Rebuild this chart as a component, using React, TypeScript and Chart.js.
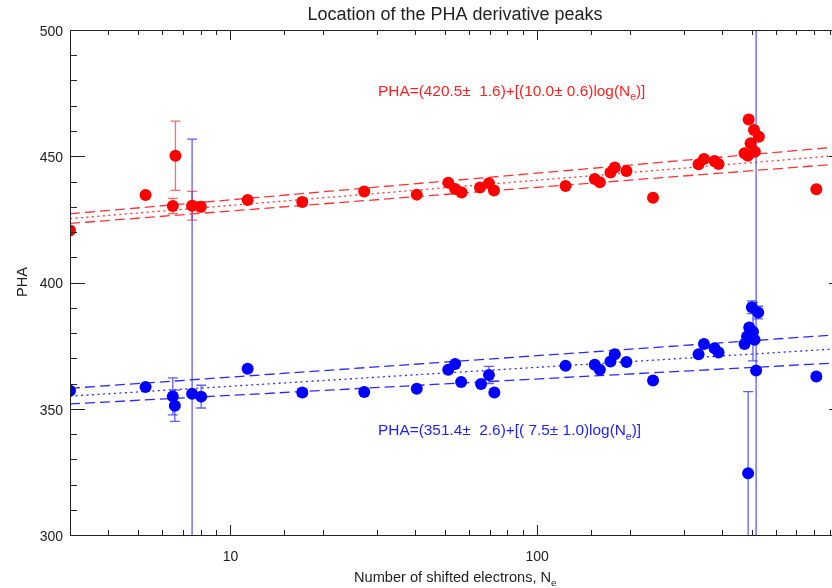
import React, { useEffect, useRef } from 'react';
import { Chart, registerables } from 'chart.js';

Chart.register(...registerables);

// ---- data ----
const redX = [3, 5.29, 6.49, 6.62, 7.5, 8.01, 11.38, 17.15, 27.3, 40.5, 51.3, 54.0, 56.7, 65.1, 69.6, 72.3, 123.7, 154, 160, 173.3, 179, 195.4, 238.5, 335.7, 349.6, 378.5, 390, 474, 486, 489, 509, 528, 496, 512, 812.5];
const redY = [420.6, 434.7, 430.3, 450.2, 430.4, 430.0, 432.7, 431.9, 436.0, 434.8, 439.5, 437.0, 435.6, 437.6, 439.3, 436.4, 438.2, 441.0, 439.7, 443.6, 445.5, 444.2, 433.6, 446.8, 448.9, 448.1, 446.9, 451.2, 450.2, 464.6, 460.4, 457.7, 455.1, 451.8, 436.9];
const redErr = [0, 0, 3.0, 13.7, 5.7, 2.0, 0, 1.5, 0, 0, 0, 0, 0, 0, 0, 0, 0, 0, 0, 0, 0, 0, 0, 0, 0, 0, 0, 0, 0, 0, 0, 0, 0, 0, 0];

const blueX = [3, 5.29, 6.49, 6.59, 7.5, 8.03, 11.38, 17.15, 27.3, 40.5, 51.3, 54.0, 56.5, 65.6, 69.6, 72.5, 123.7, 154, 160, 173.3, 179, 195.4, 238.5, 335.7, 349.6, 378.5, 390, 474, 483, 491, 501, 525, 511, 505, 517, 812.5, 487];
const blueY = [357.1, 358.6, 354.9, 351.2, 355.9, 354.8, 365.8, 356.4, 356.6, 357.9, 365.4, 367.7, 360.6, 359.8, 363.4, 356.4, 367.0, 367.4, 365.4, 368.7, 371.6, 368.5, 361.2, 371.6, 375.6, 374.0, 372.3, 375.6, 378.6, 382.2, 390.2, 388.1, 377.3, 380.5, 365.1, 362.8, 324.5];
const blueErr = [0, 0, 7.3, 6.2, 100.9, 4.5, 0, 1.5, 0, 0, 0, 0, 0, 0, 3.4, 0, 0, 0, 0, 0, 0, 0, 0, 0, 0, 0, 0, 0, 0, 0, 2.5, 2.5, 0, 11.5, 200, 0, 32.3];

// fit lines (end points at the axis limits)
const fitX = [3, 1000];
const redFit = [425.3, 450.5];
const redFitHi = [427.2, 453.9];
const redFitLo = [423.4, 447.1];
const blueFit = [355.0, 373.9];
const blueFitHi = [358.1, 379.5];
const blueFitLo = [351.9, 368.3];

const title = 'Location of the PHA derivative peaks';
const xTitle = 'Number of shifted electrons, N';
const yTitle = 'PHA';
const redFormula = ['PHA=(420.5\u00b1  1.6)+[(10.0\u00b1 0.6)log(N', 'e', ')]'];
const blueFormula = ['PHA=(351.4\u00b1  2.6)+[( 7.5\u00b1 1.0)log(N', 'e', ')]'];
const yMajorLabels = [300, 350, 400, 450, 500];
const xMajorLabels = [10, 100];

const FONT = '"Liberation Sans", Arial, Helvetica, sans-serif';
const RED = 'rgb(255,0,0)';
const BLUE = 'rgb(0,0,255)';

const pts = (xs: number[], ys: number[]) => xs.map((x, i) => ({ x, y: ys[i] }));

function drawSubText(ctx: CanvasRenderingContext2D, parts: string[], x: number, y: number, size: number, color: string) {
  ctx.fillStyle = color;
  ctx.textAlign = 'left';
  ctx.textBaseline = 'alphabetic';
  ctx.font = `${size}px ${FONT}`;
  ctx.fillText(parts[0], x, y);
  let cx = x + ctx.measureText(parts[0]).width;
  if (parts.length > 1) {
    ctx.font = `${size * 0.68}px ${FONT}`;
    ctx.fillText(parts[1], cx, y + size * 0.3);
    cx += ctx.measureText(parts[1]).width;
  }
  if (parts.length > 2) {
    ctx.font = `${size}px ${FONT}`;
    ctx.fillText(parts[2], cx, y);
  }
}

const overlay = {
  id: 'overlay',
  beforeDatasetsDraw(chart: any) {
    const { ctx, chartArea: a, scales } = chart;
    const xs = scales.x, ys = scales.y;
    ctx.save();
    ctx.beginPath();
    ctx.rect(a.left, a.top, a.right - a.left, a.bottom - a.top);
    ctx.clip();
    const drawErr = (X: number[], Y: number[], E: number[], color: string) => {
      ctx.strokeStyle = color;
      ctx.lineWidth = 1.3;
      X.forEach((xv, i) => {
        const e = E[i];
        if (!e) return;
        const px = xs.getPixelForValue(xv);
        const p1 = ys.getPixelForValue(Y[i] + e);
        const p2 = ys.getPixelForValue(Y[i] - e);
        ctx.beginPath();
        ctx.moveTo(px, p1); ctx.lineTo(px, p2);
        ctx.moveTo(px - 5, p1); ctx.lineTo(px + 5, p1);
        ctx.moveTo(px - 5, p2); ctx.lineTo(px + 5, p2);
        ctx.stroke();
      });
    };
    drawErr(redX, redY, redErr, 'rgba(255,70,70,0.8)');
    drawErr(blueX, blueY, blueErr, 'rgba(40,40,255,0.75)');
    ctx.restore();
  },
  afterDraw(chart: any) {
    const { ctx, chartArea: a, scales } = chart;
    const xs = scales.x, ys = scales.y;
    ctx.save();
    ctx.strokeStyle = '#222';
    ctx.lineWidth = 1;
    ctx.strokeRect(Math.round(a.left) + 0.5, Math.round(a.top) + 0.5, a.right - a.left, a.bottom - a.top);
    ctx.beginPath();
    ys.ticks.forEach((t: any) => {
      const py = Math.round(ys.getPixelForValue(t.value)) + 0.5;
      const len = yMajorLabels.includes(t.value) ? 15 : 7;
      ctx.moveTo(a.left, py); ctx.lineTo(a.left + len, py);
      ctx.moveTo(a.right, py); ctx.lineTo(a.right - len, py);
    });
    xs.ticks.forEach((t: any) => {
      const lg = Math.log10(t.value);
      const major = Math.abs(lg - Math.round(lg)) < 1e-9;
      const px = Math.round(xs.getPixelForValue(t.value)) + 0.5;
      const len = major ? 10 : 5;
      ctx.moveTo(px, a.bottom); ctx.lineTo(px, a.bottom - len);
      ctx.moveTo(px, a.top); ctx.lineTo(px, a.top + len);
    });
    ctx.stroke();

    // titles
    ctx.fillStyle = '#222';
    ctx.font = `18px ${FONT}`;
    ctx.textAlign = 'center';
    ctx.textBaseline = 'alphabetic';
    ctx.fillText(title, 455, 20);

    drawSubText(ctx, [xTitle, 'e'], 354, 582, 14.6, '#222');

    ctx.save();
    ctx.translate(27, 282);
    ctx.rotate(-Math.PI / 2);
    ctx.font = `14.6px ${FONT}`;
    ctx.textAlign = 'center';
    ctx.textBaseline = 'alphabetic';
    ctx.fillStyle = '#222';
    ctx.fillText(yTitle, 0, 0);
    ctx.restore();

    drawSubText(ctx, redFormula, 378, 95.5, 15.4, 'rgb(255,30,30)');
    drawSubText(ctx, blueFormula, 378, 435, 15.4, 'rgb(30,30,255)');
    ctx.restore();
  },
};

export default function App() {
  const ref = useRef<HTMLCanvasElement | null>(null);
  useEffect(() => {
    if (!ref.current) return;
    const lineDs = (ys: number[], color: string, dash: number[]) => ({
      type: 'scatter' as const,
      data: pts(fitX, ys),
      showLine: true,
      borderColor: color,
      borderWidth: 1.3,
      borderDash: dash,
      pointRadius: 0,
      clip: 0,
    });
    const chart = new Chart(ref.current, {
      type: 'scatter',
      data: {
        datasets: [
          { data: pts(redX, redY), backgroundColor: RED, borderWidth: 0, pointRadius: 6, clip: 0 } as any,
          { data: pts(blueX, blueY), backgroundColor: BLUE, borderWidth: 0, pointRadius: 6, clip: 0 } as any,
          lineDs(redFit, 'rgba(255,40,40,0.95)', [2, 3.5]),
          lineDs(redFitHi, 'rgba(255,40,40,0.95)', [10, 5]),
          lineDs(redFitLo, 'rgba(255,40,40,0.95)', [10, 5]),
          lineDs(blueFit, 'rgba(30,30,255,0.95)', [2, 3.5]),
          lineDs(blueFitHi, 'rgba(30,30,255,0.95)', [10, 5]),
          lineDs(blueFitLo, 'rgba(30,30,255,0.95)', [10, 5]),
        ],
      },
      options: {
        animation: false,
        responsive: false,
        devicePixelRatio: 1,
        layout: { padding: { left: 0, right: 5, top: 30, bottom: 0 } },
        plugins: { legend: { display: false }, tooltip: { enabled: false } },
        scales: {
          x: {
            type: 'logarithmic',
            min: 3,
            max: 1000,
            grid: { display: false, drawTicks: false },
            border: { display: false },
            ticks: {
              autoSkip: false,
              maxRotation: 0,
              padding: 14,
              color: '#222',
              font: { family: FONT, size: 14 },
              callback: (v: any) => (xMajorLabels.includes(Number(v)) ? String(v) : ''),
            },
            afterFit: (s: any) => {
              s.height = 53;
              s.paddingLeft = 0;
              s.paddingRight = 0;
            },
          },
          y: {
            type: 'linear',
            min: 300,
            max: 500,
            grid: { display: false, drawTicks: false },
            border: { display: false },
            ticks: {
              stepSize: 10,
              padding: 7,
              labelOffset: 2,
              color: '#222',
              font: { family: FONT, size: 14 },
              callback: (v: any) => (yMajorLabels.includes(Number(v)) ? String(v) : ''),
            },
            afterFit: (s: any) => {
              s.width = 70;
              s.paddingTop = 0;
              s.paddingBottom = 0;
            },
          },
        },
      },
      plugins: [overlay],
    } as any);
    return () => chart.destroy();
  }, []);
  return (
    <div style={{ position: 'fixed', left: 0, top: 0, width: 832, height: 588, overflow: 'hidden', background: '#fff' }}>
      <canvas ref={ref} width={850} height={588} style={{ display: 'block' }} />
    </div>
  );
}
